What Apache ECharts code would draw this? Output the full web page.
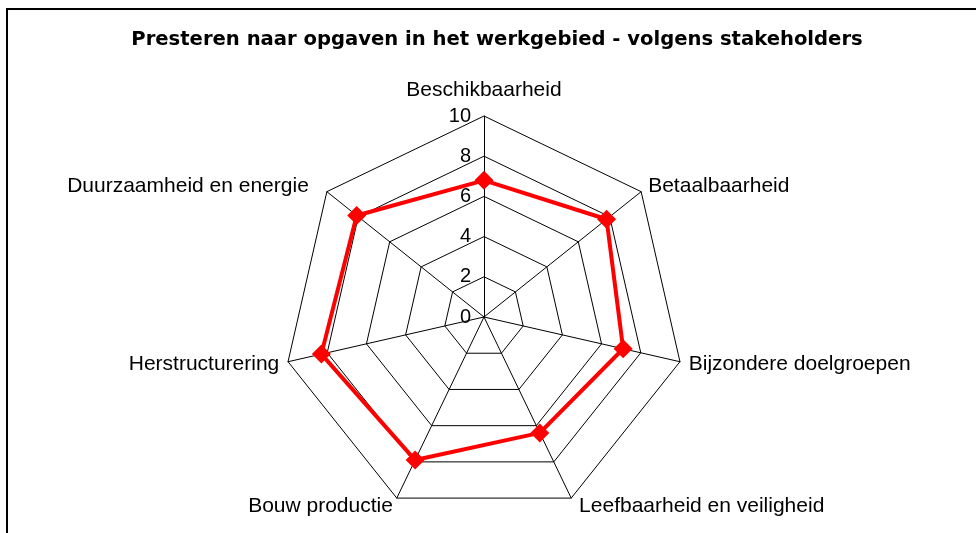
<!DOCTYPE html>
<html>
<head>
<meta charset="utf-8">
<script src="https://cdn.jsdelivr.net/npm/echarts@6/dist/echarts.min.js"></script>
<style>
  html, body { margin: 0; padding: 0; background: #fff; }
  #main { width: 976px; height: 533px; }
</style>
</head>
<body>
<div id="main"></div>
<script>
// categorieen, tegen de klok in vanaf boven (zo legt de radar ze neer)
var categories = ['Beschikbaarheid', 'Duurzaamheid en energie', 'Herstructurering',
  'Bouw productie', 'Leefbaarheid en veiligheid', 'Bijzondere doelgroepen', 'Betaalbaarheid'];
var scores = [6.8, 8.1, 8.3, 7.9, 6.4, 7.1, 7.8];
var axisMax = 10;

var myChart = echarts.init(document.getElementById('main'));

// afstand naam <-> hoekpunt, per as iets anders (zoals in het origineel)
var gaps = [15, 9, 9, 9, 9, 9, 9];
var pads = [0, [0, 11, 0, 0], 0, 0, [0, 0, 0, 4], 0, 0];

var indicators = categories.map(function (c, i) {
  var ind = { name: c, min: 0, max: axisMax, nameGap: gaps[i] };
  if (pads[i]) ind.nameTextStyle = { padding: pads[i] };
  if (i === 0) {
    // alleen de bovenste as krijgt getallen, links van de as
    ind.axisLabel = {
      show: true, margin: 13, align: 'right', verticalAlign: 'middle',
      color: '#000', fontSize: 20, fontFamily: 'Liberation Sans'
    };
  }
  return ind;
});

var option = {
  animation: false,
  title: {
    text: 'Presteren naar opgaven in het werkgebied - volgens stakeholders',
    left: 492,
    textAlign: 'center',
    top: 25,
    textStyle: { fontSize: 19.6, fontWeight: 'bold', color: '#000', fontFamily: 'DejaVu Sans' }
  },
  graphic: [
    { type: 'polyline', shape: { points: [[7, 533], [7, 9], [976, 9]] },
      style: { stroke: '#000', lineWidth: 2, fill: null } }
  ],
  radar: {
    center: [484, 317],
    radius: 201,
    startAngle: 90,
    shape: 'polygon',
    splitNumber: 5,
    indicator: indicators,
    axisName: { color: '#000', fontSize: 21, fontFamily: 'Liberation Sans' },
    axisLine: { lineStyle: { color: '#000', width: 1 } },
    splitLine: { lineStyle: { color: '#000', width: 1 } },
    splitArea: { show: false },
    axisTick: { show: false },
    axisLabel: { show: false }
  },
  series: [{
    type: 'radar',
    symbol: 'diamond',
    symbolSize: 19,
    lineStyle: { color: '#ff0000', width: 4 },
    itemStyle: { color: '#ff0000' },
    data: [{ value: scores }]
  }]
};

myChart.setOption(option);
</script>
</body>
</html>
